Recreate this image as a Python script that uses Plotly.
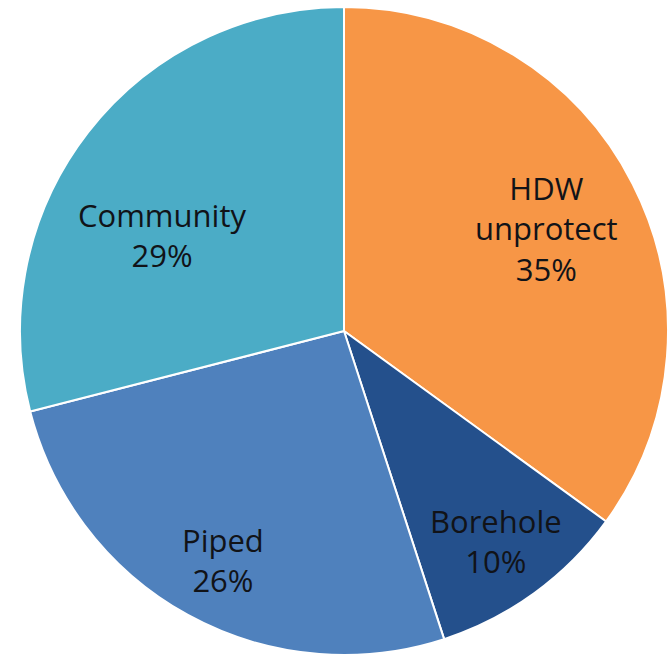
import math
import plotly.graph_objects as go

# Household water sources, share of respondents
sources = ["HDW<br>unprotect", "Borehole", "Piped", "Community"]
shares = [35, 10, 26, 29]
colors = ["#F79646", "#24508C", "#4F81BD", "#4BACC6"]

# Label placement inside each slice: fraction of the radius, and an angular nudge (deg)
label_radius = [0.70, 0.80, 0.80, 0.635]
label_nudge = [0, 0, -1, -10]

W, H = 669, 659
dom_x = [0.0299, 0.9985]
dom_y = [0.006, 0.9894]

fig = go.Figure(
    go.Pie(
        labels=sources,
        values=shares,
        sort=False,
        direction="clockwise",
        rotation=0,
        marker=dict(colors=colors, line=dict(color="white", width=2)),
        textinfo="none",
        hoverinfo="label+percent",
        showlegend=False,
        domain=dict(x=dom_x, y=dom_y),
    )
)

# Place "label / percent" text at each slice's mid-angle (clockwise from 12 o'clock)
cx = (dom_x[0] + dom_x[1]) / 2
cy = (dom_y[0] + dom_y[1]) / 2
radius_px = min((dom_x[1] - dom_x[0]) * W, (dom_y[1] - dom_y[0]) * H) / 2
total = sum(shares)
start = 0.0
for name, val, rf, nudge in zip(sources, shares, label_radius, label_nudge):
    frac = val / total
    mid = math.radians((start + frac / 2) * 360 + nudge)
    start += frac
    r = rf * radius_px
    fig.add_annotation(
        x=cx + r * math.sin(mid) / W,
        y=cy + r * math.cos(mid) / H,
        xref="paper",
        yref="paper",
        text=f"{name}<br>{round(frac * 100)}%",
        showarrow=False,
        xanchor="center",
        yanchor="middle",
        align="center",
        font=dict(family="Open Sans, sans-serif", size=31, color="#111318"),
    )

fig.update_layout(
    width=W,
    height=H,
    margin=dict(l=0, r=0, t=0, b=0),
    paper_bgcolor="white",
    plot_bgcolor="white",
)

fig.write_html("out.html")
